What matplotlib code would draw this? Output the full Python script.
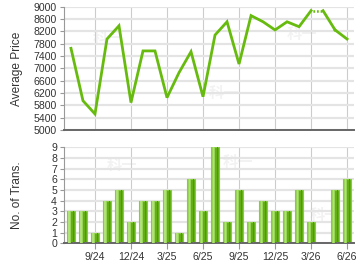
import matplotlib
matplotlib.use("Agg")
import matplotlib.pyplot as plt
import numpy as np

plt.rcParams['font.family'] = ['Liberation Sans', 'DejaVu Sans']

months = ["7/24", "8/24", "9/24", "10/24", "11/24", "12/24", "1/25", "2/25", "3/25",
          "4/25", "5/25", "6/25", "7/25", "8/25", "9/25", "10/25", "11/25", "12/25",
          "1/26", "2/26", "3/26", "4/26", "5/26", "6/26"]
avg_price = [7650, 5950, 5520, 7950, 8380, 5890, 7565, 7565, 6050, 6860, 7540, 6080,
             8080, 8510, 7140, 8710, 8510, 8245, 8510, 8350, 8870, None, 8245, 7950]
transactions = [3, 3, 1, 4, 5, 2, 4, 4, 5, 1, 6, 3, 9, 2, 5, 2, 4, 3, 3, 5, 2, 0, 5, 6]
tick_labels = ["9/24", "12/24", "3/25", "6/25", "9/25", "12/25", "3/26", "6/26"]
tick_idx = [months.index(t) for t in tick_labels]
price_ticks = list(range(5000, 9001, 400))
trans_ticks = list(range(0, 10))

x = np.arange(len(months))
xlim = (-0.58, 23.58)
line_color = "#66bb0e"
grid_h = "#e4e4e4"
grid_v = "#cccccc"
spine_c = "#666666"
tick_fs = 7.6

fig = plt.figure(figsize=(3.6, 2.7), dpi=100)
ax1 = fig.add_axes([0.1778, 0.5185, 0.8056, 0.4568])
ax2 = fig.add_axes([0.1778, 0.0989, 0.8056, 0.3555])

def style(ax):
    for s in ("top", "right"):
        ax.spines[s].set_visible(False)
    ax.spines["left"].set_color("#999999")
    ax.spines["left"].set_linewidth(0.8)
    ax.spines["bottom"].set_color(spine_c)
    ax.spines["bottom"].set_linewidth(1.4)
    ax.set_xlim(*xlim)
    ax.set_xticks(tick_idx)
    ax.tick_params(axis="both", which="both", labelsize=tick_fs,
                   length=3, width=0.8, pad=2)
    ax.tick_params(axis="x", colors="#999999", labelcolor="#333333")
    ax.tick_params(axis="y", colors="#999999", labelcolor="#333333")
    ax.set_axisbelow(True)
    ax.grid(axis="x", color=grid_v, linewidth=0.8)
    ax.grid(axis="y", color=grid_h, linewidth=1.6)

# watermarks
for ax, pos in ((ax1, [(0.15, 0.75), (0.55, 0.3), (0.82, 0.78)]),
                (ax2, [(0.2, 0.82), (0.6, 0.85), (0.9, 0.3)])):
    for wx, wy in pos:
        ax.text(wx, wy, "科一", transform=ax.transAxes, fontsize=11, color="#000000",
                alpha=0.05, family=["Noto Sans CJK SC", "DejaVu Sans"],
                fontweight="bold", ha="center", va="center", zorder=0.5)

# top: price line
style(ax1)
ax1.set_ylim(5000, 9000)
ax1.set_yticks(price_ticks)
ax1.set_xticklabels([])
ax1.tick_params(axis="x", length=0)
segments = []
cur_x, cur_y = [], []
for i, v in enumerate(avg_price):
    if v is None:
        if cur_x:
            segments.append((cur_x, cur_y))
        cur_x, cur_y = [], []
        continue
    cur_x.append(i)
    cur_y.append(v)
if cur_x:
    segments.append((cur_x, cur_y))
for sx, sy in segments:
    ax1.plot(sx, sy, color=line_color, linewidth=2, solid_joinstyle="miter", zorder=3)
# missing month: carry previous value, dotted then solid
for i, v in enumerate(avg_price):
    if v is None and 0 < i < len(avg_price) - 1:
        prev = avg_price[i - 1]
        nxt = avg_price[i + 1]
        ax1.plot([i - 1, i], [prev, prev], color=line_color, linewidth=1.8,
                 linestyle=(0.7, (0.7, 0.75)), dash_capstyle="butt", zorder=3)
        ax1.plot([i, i + 1], [prev, nxt], color=line_color, linewidth=2, zorder=3)
ax1.set_ylabel("Average Price", fontsize=8.6, color="#333333", labelpad=8)

# bottom: transactions bars with gradient look
style(ax2)
ax2.set_ylim(0, 9)
ax2.set_yticks(trans_ticks)
ax2.set_xticklabels(tick_labels)
ax2.tick_params(axis="x", length=4)
w = 0.72
ax2.bar(x, transactions, width=w, color="#62ae14", edgecolor="#86cc40",
        linewidth=0.8, zorder=2)
ax2.bar(x - w * 0.18, transactions, width=w * 0.44, color="#98d458",
        edgecolor="none", linewidth=0, zorder=3)
ax2.bar(x - w * 0.2, transactions, width=w * 0.18, color="#b0e17a",
        edgecolor="none", linewidth=0, zorder=4)
ax2.bar(x + w * 0.3, transactions, width=w * 0.16, color="#4e9a04",
        edgecolor="none", linewidth=0, zorder=4)
ax2.set_ylabel("No. of Trans.", fontsize=8.6, color="#333333", labelpad=20)

fig.savefig("out.png", dpi=100)
